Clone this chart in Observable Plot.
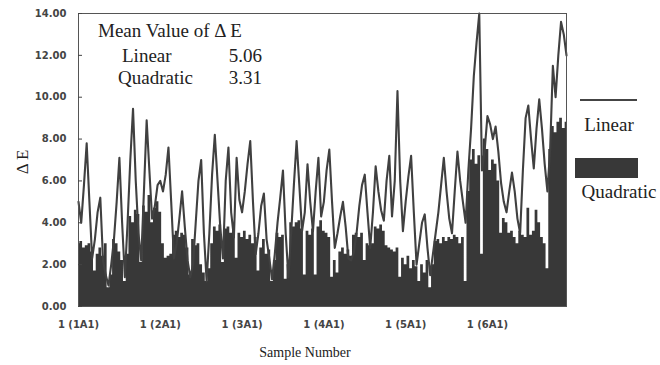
<!DOCTYPE html>
<html><head><meta charset="utf-8">
<script src="https://cdn.jsdelivr.net/npm/d3@7"></script>
<script src="https://cdn.jsdelivr.net/npm/@observablehq/plot@0.6"></script>
<style>
html,body{margin:0;padding:0;background:#fff;}
#chart{width:660px;height:365px;}
</style></head><body><div id="chart"></div>
<script>
const groupLabels = ["1 (1A1)", "1 (2A1)", "1 (3A1)", "1 (4A1)", "1 (5A1)", "1 (6A1)"];
const groupStarts = [1, 31, 61, 91, 121, 151];
const yTicks = [0, 2, 4, 6, 8, 10, 12, 14];
const seriesNames = ["Linear", "Quadratic"];
const meanValues = [5.06, 3.31];

const linear = [
5.0,4.0,5.8,7.8,5.0,2.3,3.2,4.5,5.2,2.2,
1.5,1.0,2.0,3.2,5.0,7.1,4.0,1.4,4.0,7.0,
9.45,6.0,3.5,2.2,5.5,8.9,6.5,4.2,4.8,5.8,
6.0,5.5,6.3,7.6,5.0,2.3,3.0,4.2,5.5,3.8,
2.2,1.4,2.0,4.0,6.0,7.0,3.5,1.2,3.5,6.3,
8.2,6.0,3.8,2.3,6.0,7.6,4.5,3.3,7.1,5.1,
4.5,5.5,6.8,7.9,5.0,2.5,3.5,4.8,5.4,3.2,
2.3,1.3,2.5,4.0,5.2,6.5,3.5,1.4,3.5,5.8,
7.9,5.8,3.6,4.5,6.8,5.0,3.6,5.5,7.1,4.3,
5.0,6.5,7.5,5.0,2.8,3.5,4.3,5.0,3.8,2.3,
2.2,2.6,3.5,4.8,5.8,6.3,4.5,2.8,4.5,6.7,
5.5,4.6,4.1,6.0,7.2,4.3,6.0,10.3,6.0,3.6,
5.0,6.2,7.2,4.5,2.0,3.0,4.0,4.4,2.8,1.5,
2.5,3.5,4.5,5.8,7.1,5.5,4.2,3.5,5.5,7.4,
6.0,5.0,4.0,6.5,8.5,11.0,12.6,14.0,6.5,7.5,
9.1,8.7,8.0,8.6,7.4,5.9,5.0,4.5,5.5,6.4,
5.5,4.2,3.5,6.5,9.0,9.6,8.0,6.6,8.5,9.9,
8.5,6.8,5.5,7.5,11.5,10.0,12.0,13.6,13.0,12.0
];

const quadratic = [
3.0,3.1,2.8,2.9,3.0,2.6,1.7,2.5,2.8,2.4,
3.0,0.9,1.5,3.2,3.0,2.6,2.2,1.2,2.5,4.3,
4.0,4.6,4.4,2.1,4.8,4.5,5.3,4.0,4.7,5.0,
4.5,3.0,2.3,2.4,2.5,3.4,3.6,3.3,3.5,3.4,
2.8,1.5,3.2,2.9,3.0,2.0,1.6,1.2,1.8,3.0,
3.8,3.6,3.9,2.1,3.7,3.8,3.5,3.8,2.3,3.5,
3.3,3.6,3.2,3.4,3.0,3.3,1.7,2.8,3.2,2.5,
2.7,1.2,2.2,3.5,3.3,3.4,1.3,2.0,4.0,3.8,
4.0,4.1,3.7,1.5,3.6,3.4,3.7,1.5,3.8,4.1,
3.6,3.5,3.3,1.4,2.2,1.6,2.6,2.8,2.5,2.7,
2.4,3.4,3.5,3.3,3.5,2.2,3.0,2.9,3.0,3.8,
3.7,3.9,3.6,2.9,2.8,2.7,2.6,2.8,1.4,2.3,
2.0,2.4,1.8,2.2,1.9,1.2,2.0,1.6,2.2,0.9,
2.0,3.1,3.2,3.0,3.3,3.1,3.3,3.2,3.4,3.3,
3.0,3.3,1.2,5.5,7.0,7.5,6.8,7.2,2.5,8.0,
7.5,6.5,7.0,6.8,6.0,3.5,4.2,4.0,3.5,3.6,
3.3,3.0,3.6,3.4,3.3,4.7,3.4,3.6,4.6,4.0,
3.3,3.0,1.8,7.5,8.6,8.3,8.8,9.0,8.5,8.8
];

const data = linear.map((v, i) => ({sample: i + 1, linear: v, quadratic: quadratic[i]}));
const ink = "#383838";
const serif = "'Liberation Serif', 'DejaVu Serif', serif";

const plot = Plot.plot({
  width: 660,
  height: 365,
  marginLeft: 78,
  marginRight: 94,
  marginTop: 13,
  marginBottom: 59,
  style: {fontFamily: "'DejaVu Sans', sans-serif", fontSize: "10px", fontWeight: "bold", color: "#444", background: "#fff", overflow: "visible"},
  x: {domain: [1, 180], label: null},
  y: {domain: [0, 14], label: null},
  marks: [
    Plot.areaY(data, {x: "sample", y: "quadratic", curve: "step", fill: ink}),
    Plot.lineY(data, {x: "sample", y: "linear", stroke: "#404040", strokeWidth: 2.1}),
    Plot.frame({stroke: "#555", strokeWidth: 1}),
    Plot.axisY({ticks: yTicks, tickSize: -4, tickPadding: 16, tickFormat: d => d.toFixed(2), stroke: "#444"}),
    Plot.axisX({ticks: groupStarts, tickSize: 0, tickPadding: 14, tickFormat: d => groupLabels[groupStarts.indexOf(d)]})
  ]
});

document.getElementById("chart").appendChild(plot);

const svg = d3.select(plot);
const addText = (x, y, txt, size, anchor = "start", rotate = null) => {
  const t = svg.append("text")
    .attr("x", x).attr("y", y)
    .style("font-family", serif)
    .style("font-size", size + "px")
    .style("font-weight", "normal")
    .attr("fill", "#222")
    .attr("text-anchor", anchor)
    .text(txt);
  if (rotate !== null) t.attr("transform", `rotate(${rotate},${x},${y})`);
  return t;
};

// inset annotation
addText(98, 37, "Mean Value of \u0394 E", 19);
addText(122, 62, seriesNames[0], 19);
addText(262, 62, meanValues[0].toFixed(2), 19, "end");
addText(118, 84, seriesNames[1], 19);
addText(262, 84, meanValues[1].toFixed(2), 19, "end");

// axis titles
addText(305, 357, "Sample Number", 14, "middle");
addText(28, 162, "\u0394 E", 17, "middle", -90);

// legend
svg.append("line").attr("x1", 580).attr("x2", 637).attr("y1", 100).attr("y2", 100)
  .attr("stroke", "#444").attr("stroke-width", 2);
addText(609, 131, seriesNames[0], 19, "middle");
svg.append("rect").attr("x", 575).attr("y", 158).attr("width", 63).attr("height", 20).attr("fill", ink);
addText(619, 198, seriesNames[1], 19, "middle");
</script>
</body></html>
